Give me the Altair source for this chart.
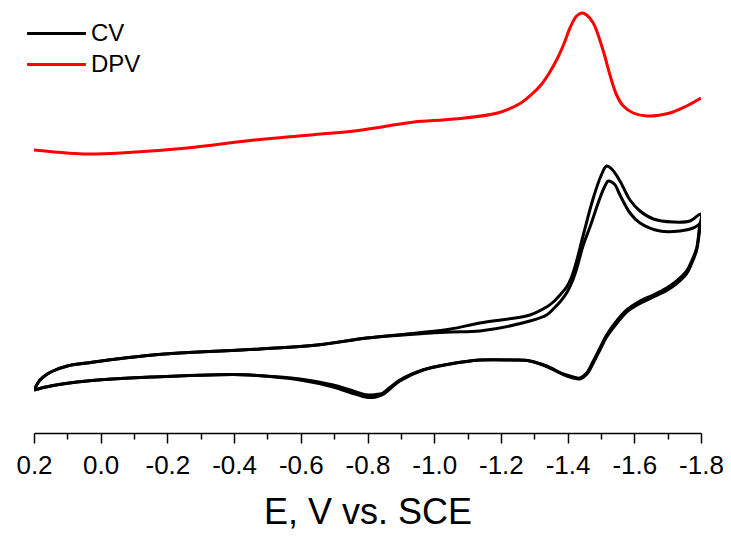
import altair as alt
import pandas as pd

# ---- data (E in V vs. SCE, current in arbitrary units) ----
dpv_E = [0.20, 0.10, 0.04, -0.06, -0.26, -0.46, -0.66, -0.76, -0.86, -0.94, -1.06, -1.19,
         -1.26, -1.29, -1.32, -1.345, -1.37, -1.39, -1.407, -1.427, -1.443, -1.457, -1.477,
         -1.507, -1.527, -1.547, -1.567, -1.597, -1.637, -1.707, -1.757, -1.80]
dpv_I = [28.3, 28.0, 27.9, 28.0, 28.5, 29.3, 29.9, 30.2, 30.7, 31.1, 31.4, 32.0,
         33.0, 33.8, 34.8, 36.0, 37.5, 39.0, 40.5, 41.7, 42.0, 41.8, 41.0,
         38.2, 35.8, 33.8, 32.7, 32.0, 31.7, 32.0, 32.7, 33.5]

cv1_E = [0.200, 0.182, 0.160, 0.143, 0.100, 0.041, -0.157, -0.478, -0.649, -0.798, -0.948,
         -1.050, -1.137, -1.287, -1.337, -1.357, -1.377, -1.397, -1.412, -1.427, -1.447,
         -1.477, -1.500, -1.517, -1.535, -1.557, -1.587, -1.617, -1.657, -1.717, -1.767,
         -1.800,
         -1.795, -1.787, -1.772, -1.757, -1.727, -1.697, -1.657, -1.617, -1.577, -1.547,
         -1.517, -1.497, -1.477, -1.457, -1.437, -1.417, -1.387, -1.337, -1.287, -1.237,
         -1.137, -1.047, -0.966, -0.897, -0.867, -0.846, -0.825, -0.801, -0.748, -0.697,
         -0.598, -0.448, -0.397, -0.157, 0.041, 0.150, 0.200]
cv1_I = [4.3, 5.3, 5.9, 6.2, 6.7, 7.0, 7.8, 8.4, 8.8, 9.5, 10.0,
         10.4, 11.0, 11.8, 12.6, 13.1, 13.8, 14.6, 15.6, 17.2, 19.8,
         23.5, 25.7, 26.7, 26.3, 25.2, 23.3, 22.2, 21.4, 21.1, 21.2,
         21.9,
         20.5, 18.5, 17.2, 16.2, 15.2, 14.5, 13.8, 13.2, 12.3, 11.2,
         9.8, 8.5, 7.2, 6.0, 5.5, 5.6, 5.9, 6.7, 7.2, 7.3,
         7.3, 6.9, 6.3, 5.3, 4.55, 4.0, 3.85, 3.8, 4.3, 4.8,
         5.4, 5.8, 5.85, 5.6, 5.2, 4.7, 4.3]

cv2_E = [0.200, 0.182, 0.160, 0.143, 0.100, 0.041, -0.157, -0.478, -0.649, -0.798, -0.948,
         -1.050, -1.137, -1.287, -1.337, -1.357, -1.377, -1.397, -1.412, -1.427, -1.447,
         -1.467, -1.497, -1.512, -1.522, -1.540, -1.557, -1.587, -1.617, -1.677, -1.737,
         -1.777, -1.792, -1.800,
         -1.795, -1.787, -1.772, -1.757, -1.727, -1.697, -1.657, -1.617, -1.577, -1.547,
         -1.517, -1.497, -1.477, -1.457, -1.437, -1.417, -1.387, -1.337, -1.287, -1.237,
         -1.137, -1.047, -0.966, -0.897, -0.867, -0.846, -0.825, -0.801, -0.748, -0.697,
         -0.598, -0.448, -0.397, -0.157, 0.041, 0.150, 0.200]
cv2_I = [4.3, 5.3, 5.9, 6.2, 6.7, 7.0, 7.8, 8.4, 8.8, 9.5, 9.9,
         10.1, 10.2, 11.2, 11.8, 12.4, 13.1, 14.0, 15.0, 16.4, 18.8,
         20.6, 23.5, 24.7, 25.2, 24.9, 23.8, 22.0, 21.0, 20.2, 20.2,
         20.5, 20.8, 21.0,
         20.0, 18.3, 16.95, 15.95, 14.95, 14.25, 13.6, 12.95, 12.1, 10.95,
         9.6, 8.3, 7.0, 5.85, 5.4, 5.5, 5.85, 6.65, 7.2, 7.3,
         7.3, 6.9, 6.3, 5.2, 4.4, 3.85, 3.6, 3.55, 4.05, 4.6,
         5.3, 5.8, 5.85, 5.6, 5.2, 4.7, 4.3]

x_ticks = [0.2, 0.1, 0.0, -0.1, -0.2, -0.3, -0.4, -0.5, -0.6, -0.7, -0.8, -0.9, -1.0,
           -1.1, -1.2, -1.3, -1.4, -1.5, -1.6, -1.7, -1.8]

rows = []
for name, cyc, Es, Is in [("CV", "c1", cv1_E, cv1_I), ("CV", "c2", cv2_E, cv2_I),
                          ("DPV", "d", dpv_E, dpv_I)]:
    for k, (e, i) in enumerate(zip(Es, Is)):
        rows.append({"E": e, "I": i, "curve": name, "cycle": cyc, "idx": k})
df = pd.DataFrame(rows)

FONT = "Liberation Sans"
MINUS = "\u2212"

label_expr = (
    "abs(round(datum.value*10)) % 2 == 0 ? "
    f"replace(format(datum.value, '.1f'), '{MINUS}', '-') : ''"
)

chart = alt.Chart(df).mark_line(strokeWidth=3, interpolate="catmull-rom", clip=True).encode(
    x=alt.X("E:Q",
            scale=alt.Scale(domain=[-1.8, 0.2], reverse=True, nice=False, zero=False),
            axis=alt.Axis(values=x_ticks, labelExpr=label_expr, title="E, V vs. SCE",
                          grid=False, domainColor="black", domainWidth=1.5,
                          tickColor="black", tickWidth=1.5,
                          tickSize={"condition": {"test": "abs(round(datum.value*10)) % 2 == 0",
                                                  "value": 10}, "value": 6},
                          labelFont=FONT, labelFontSize=26, labelColor="black",
                          labelPadding=9, labelFlush=False, labelOverlap=False,
                          titleFont=FONT, titleFontSize=36, titleFontWeight="normal",
                          titleColor="black", titleBaseline="alphabetic", titleY=90)),
    y=alt.Y("I:Q", scale=alt.Scale(domain=[0, 42.5], nice=False, zero=False), axis=None),
    color=alt.Color("curve:N",
                    scale=alt.Scale(domain=["CV", "DPV"], range=["#000000", "#ff0000"]),
                    legend=alt.Legend(orient="none", legendX=7, legendY=10, title=None,
                                      symbolType="M-2.1,0H2.1", symbolSize=784,
                                      symbolStrokeWidth=3, labelFont=FONT,
                                      labelFontSize=24, labelColor="black",
                                      labelOffset=19, padding=0, rowPadding=3)),
    detail="cycle:N",
    order="idx:Q",
).properties(
    width=667, height=425,
    padding={"left": 26, "top": 0, "right": 22, "bottom": 96},
    autosize=alt.AutoSizeParams(type="none"),
).configure_view(stroke=None)

chart.save("out.html", embed_options={"renderer": "svg", "actions": False})
